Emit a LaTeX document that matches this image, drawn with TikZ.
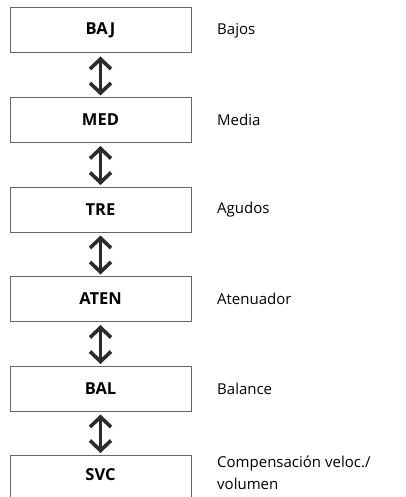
\documentclass[tikz,border=0pt]{standalone}
\usepackage{fontspec}
\setmainfont{Open Sans}
\usetikzlibrary{arrows.meta}
\definecolor{boxline}{HTML}{666666}
\definecolor{arr}{HTML}{2b2b2b}
\begin{document}
\begin{tikzpicture}[x=1pt,y=1pt,
  menubox/.style={draw=boxline,line width=1pt,minimum width=181pt,minimum height=45pt,inner sep=0pt,font=\fontsize{16.5}{18}\selectfont\bfseries,text=black},
  desc/.style={anchor=west,align=left,inner sep=0pt,font=\fontsize{15}{22}\selectfont,text=black},
  updown/.style={draw=arr,line width=3.6pt,{Straight Barb[length=10pt,width=21pt]}-{Straight Barb[length=10pt,width=21pt]}}]
\useasboundingbox (0,0) rectangle (406,-497);
\clip (0,0) rectangle (406,-497);
\node[menubox] (b1) at (100.5,-30.5) {BAJ};
\node[menubox] (b2) at (100.5,-120) {MED};
\node[menubox] (b3) at (100.5,-209.5) {TRE};
\node[menubox] (b4) at (100.5,-299) {ATEN};
\node[menubox] (b5) at (100.5,-388.5) {BAL};
\node[draw=boxline,line width=1pt,minimum width=181pt,minimum height=60pt,inner sep=0pt] (b6) at (100.5,-485) {};
\node[font=\fontsize{16.5}{18}\selectfont\bfseries] (t6) at (100.5,-475) {SVC};
\node[desc] (d1) at (217,-30.5) {Bajos};
\node[desc] (d2) at (217,-120) {Media};
\node[desc] (d3) at (217,-209.5) {Agudos};
\node[desc] (d4) at (217,-299) {Atenuador};
\node[desc] (d5) at (217,-388.5) {Balance};
\node[desc] (d6) at (217,-473) {Compensación veloc./\\volumen};
\foreach \a/\b in {b1/b2,b2/b3,b3/b4,b4/b5,b5/b6}{
  \draw[updown] ([yshift=-3pt]\a.south) -- ([yshift=1.5pt]\b.north);
}
\end{tikzpicture}
\end{document}
